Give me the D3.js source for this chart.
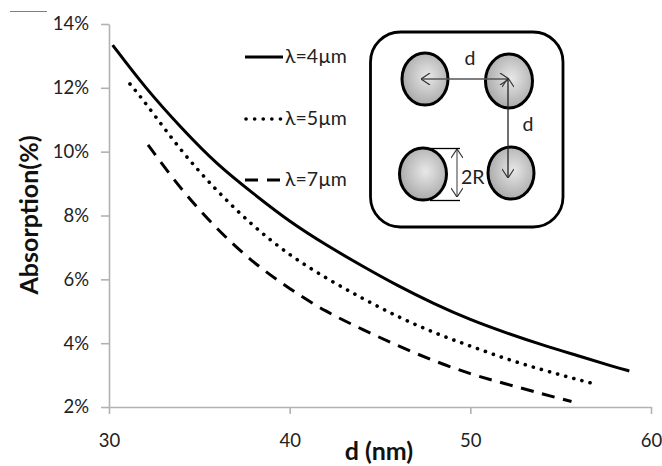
<!DOCTYPE html>
<html><head><meta charset="utf-8">
<script src="https://cdn.jsdelivr.net/npm/d3@7"></script>
<style>html,body{margin:0;padding:0;background:#fff}svg{display:block}text{font-family:Lato,Carlito,sans-serif}</style>
</head><body><svg id="c" width="662" height="466"></svg>
<script>
const xTicks=[30,40,50,60];
const yTicks=[2,4,6,8,10,12,14];
const d4=[30.2,32,34,36,38,40,42,44,46,48,50,52,54,56,58,58.8];
const v4=[13.34,12.0,10.74,9.58,8.68,7.8,7.08,6.42,5.79,5.23,4.73,4.32,3.94,3.6,3.25,3.13];
const d5=[31.16,32,34,36,38,40,42,44,46,48,50,52,54,56,56.9];
const v5=[12.12,11.55,10.0,8.75,7.65,6.75,6.04,5.41,4.82,4.32,3.91,3.5,3.16,2.85,2.72];
const d7=[32.16,34,36,38,40,42,44,46,48,50,52,54,55.6];
const v7=[10.21,8.8,7.55,6.51,5.7,4.98,4.44,3.91,3.44,3.03,2.72,2.41,2.17];
const legendLabels=["λ=4µm","λ=5µm","λ=7µm"];
const dashes=[null,"0.1 8.3","13 8.7"];
const series=[[d4,v4],[d5,v5],[d7,v7]];

const svg=d3.select("#c");
const x=d3.scaleLinear().domain([30,60]).range([109,651]);
const y=d3.scaleLinear().domain([2,14]).range([407,24]);
const axisCol="#b2b2b2",txt="#222";

svg.append("line").attr("x1",10).attr("x2",47).attr("y1",11.5).attr("y2",11.5).attr("stroke","#5b87c0").attr("stroke-width",1);

const gx=svg.append("g").attr("transform","translate(0,407)").call(d3.axisBottom(x).tickValues(xTicks).tickSize(7).tickSizeOuter(0).tickPadding(20));
const gy=svg.append("g").attr("transform","translate(109,0)").call(d3.axisLeft(y).tickValues(yTicks).tickFormat(d=>d+"%").tickSize(8).tickSizeOuter(0).tickPadding(12));
[gx,gy].forEach(g=>{g.selectAll("path,line").attr("stroke",axisCol).attr("stroke-width",1.6);
 g.selectAll("text").attr("fill",txt).style("font-size","18.5px").style("font-family","Lato,sans-serif");});

const line=d3.line().x(d=>x(d[0])).y(d=>y(d[1])).curve(d3.curveBasis);
series.forEach((s,i)=>{
 const p=svg.append("path").attr("d",line(s[0].map((d,j)=>[d,s[1][j]]))).attr("fill","none").attr("stroke","#000").attr("stroke-width",i==1?3.6:3);
 if(dashes[i])p.attr("stroke-dasharray",dashes[i]);
 if(i==1)p.attr("stroke-linecap","round");
});

svg.append("text").attr("transform","translate(38,215) rotate(-90)").attr("text-anchor","middle").attr("font-weight",700).attr("font-size",25).attr("fill","#111").text("Absorption(%)");
svg.append("text").attr("x",379).attr("y",460).attr("text-anchor","middle").attr("font-weight",700).attr("font-size",25).attr("fill","#111").text("d (nm)");

// legend
[57,119,180].forEach((ly,i)=>{
 const l=svg.append("line").attr("x1",i==1?246:245).attr("x2",i==0?283:(i==1?281:280)).attr("y1",ly).attr("y2",ly).attr("stroke","#000").attr("stroke-width",i==1?3.6:3);
 if(dashes[i])l.attr("stroke-dasharray",i==1?"0.1 8.5":"13 9").attr("stroke-linecap",i==1?"round":"butt");
 svg.append("text").attr("x",285).attr("y",ly+6).attr("font-size",19.5).attr("fill",txt).text(legendLabels[i]);
});

// inset diagram
const defs=svg.append("defs");
const g=defs.append("radialGradient").attr("id","ball").attr("cx","55%").attr("cy","45%").attr("r","65%");
g.append("stop").attr("offset","0%").attr("stop-color","#e8e8e8");
g.append("stop").attr("offset","100%").attr("stop-color","#a0a0a0");
const mk=defs.append("marker").attr("id","ah").attr("viewBox","0 0 10 12").attr("refX",10).attr("refY",6).attr("markerWidth",10).attr("markerHeight",12).attr("markerUnits","userSpaceOnUse").attr("orient","auto-start-reverse");
mk.append("path").attr("d","M1,0L10,6L1,12").attr("fill","none").attr("stroke","#333").attr("stroke-width",1.2);

svg.append("rect").attr("x",370.5).attr("y",32).attr("width",192.5).attr("height",195).attr("rx",30).attr("fill","#fff").attr("stroke","#000").attr("stroke-width",2.8);
const balls=[[425,79,23,26],[509,81,23.5,27],[423,174,23.5,26],[511,173,23,26]];
svg.selectAll("ellipse").data(balls).join("ellipse").attr("cx",d=>d[0]).attr("cy",d=>d[1]).attr("rx",d=>d[2]).attr("ry",d=>d[3]).attr("fill","url(#ball)").attr("stroke","#000").attr("stroke-width",3);
const arrow=(a,b,c,e,col)=>svg.append("line").attr("x1",a).attr("y1",b).attr("x2",c).attr("y2",e).attr("stroke",col).attr("stroke-width",1.3).attr("marker-start","url(#ah)").attr("marker-end","url(#ah)");
arrow(421,79,509,79,"#555");
arrow(508,78,508,178,"#222");
arrow(457,149,457,197,"#666");
[148.5,200.5].forEach(yy=>svg.append("line").attr("x1",430).attr("x2",460).attr("y1",yy).attr("y2",yy).attr("stroke","#000").attr("stroke-width",1.3));
[["d",470,65],["d",528,131],["2R",461,184]].forEach(t=>svg.append("text").attr("x",t[1]).attr("y",t[2]).attr("text-anchor",t[0]=="2R"?"start":"middle").attr("font-size",19.5).attr("fill",txt).text(t[0]));
</script></body></html>
